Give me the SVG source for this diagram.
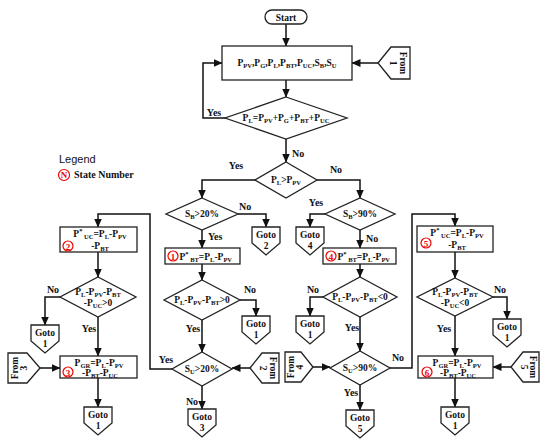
<svg xmlns="http://www.w3.org/2000/svg" width="550" height="444" viewBox="0 0 550 444">
<style>
.t{font-family:"Liberation Serif",serif;font-weight:bold;font-size:9.5px;fill:#111}
.s{font-size:6.5px}
.lb{font-family:"Liberation Serif",serif;font-weight:bold;font-size:10px;fill:#111}
.sh{fill:#fff;stroke:#222;stroke-width:1.3}
.c{fill:none;stroke:#111;stroke-width:1.5}
.st{fill:#fff;stroke:#e00;stroke-width:1.2}
.sn{font-family:"Liberation Serif",serif;font-weight:bold;font-size:9px;fill:#e00}
</style>
<defs>
<marker id="a" markerUnits="userSpaceOnUse" markerWidth="9" markerHeight="8" refX="8.5" refY="4" orient="auto">
<path d="M0,0 L9,4 L0,8 z" fill="#111"/>
</marker>
</defs>
<rect width="550" height="444" fill="#fff"/>

<g id="connectors" class="c" marker-end="url(#a)">
<path d="M286,24 V46"/>
<path d="M378,63 H352"/>
<path d="M286,80 V97"/>
<path d="M225,118 H203 V63 H222"/>
<path d="M286,139 V162"/>
<path d="M255,180 H202 V198"/>
<path d="M317,180 H360 V198"/>
<path d="M238,214 H266 V227"/>
<path d="M202,230 V248"/>
<path d="M325,214 H310 V227"/>
<path d="M360,230 V248"/>
<path d="M202,264 V280"/>
<path d="M240,300 H256 V316"/>
<path d="M202,320 V352"/>
<path d="M172,369 H150 V214 H98 V227"/>
<path d="M250,368 H232"/>
<path d="M202,386 V409"/>
<path d="M98,252 V277"/>
<path d="M60,297 H45 V325"/>
<path d="M98,317 V356"/>
<path d="M40,368 H60"/>
<path d="M98,378 V407"/>
<path d="M360,264 V277"/>
<path d="M323,297 H310 V316"/>
<path d="M360,317 V351"/>
<path d="M313,367 H330"/>
<path d="M360,385 V410"/>
<path d="M390,368 H412 V214 H455 V226"/>
<path d="M455,252 V278"/>
<path d="M493,297 H507 V319"/>
<path d="M455,316 V356"/>
<path d="M511,367 H493"/>
<path d="M455,378 V407"/>
</g>

<g id="edge-labels" class="lb">
<text x="214" y="116" text-anchor="middle">Yes</text>
<text x="292" y="157">No</text>
<text x="236" y="169" text-anchor="middle">Yes</text>
<text x="336" y="173" text-anchor="middle">No</text>
<text x="239" y="210">No</text>
<text x="208" y="240">Yes</text>
<text x="316" y="206" text-anchor="middle">Yes</text>
<text x="366" y="242">No</text>
<text x="250" y="293" text-anchor="middle">No</text>
<text x="193" y="332" text-anchor="middle">Yes</text>
<text x="166" y="363" text-anchor="middle">Yes</text>
<text x="192" y="405" text-anchor="middle">No</text>
<text x="53" y="293" text-anchor="middle">No</text>
<text x="89" y="332" text-anchor="middle">Yes</text>
<text x="313" y="293" text-anchor="middle">No</text>
<text x="352" y="331" text-anchor="middle">Yes</text>
<text x="351" y="396" text-anchor="middle">Yes</text>
<text x="398" y="361" text-anchor="middle">No</text>
<text x="500" y="293" text-anchor="middle">No</text>
<text x="444" y="332" text-anchor="middle">Yes</text>
</g>

<g id="legend">
<text x="59" y="163" style="font-family:'Liberation Sans',sans-serif;font-size:11px;fill:#111">Legend</text>
<circle class="st" cx="64" cy="175" r="5.5"/>
<text class="sn" x="64" y="178" text-anchor="middle">N</text>
<text class="lb" x="74" y="178">State Number</text>
</g>

<g id="start">
<rect class="sh" x="265" y="10" width="42" height="14" rx="7"/>
<text class="t" x="286" y="20.5" text-anchor="middle">Start</text>
</g>

<g id="input">
<rect class="sh" x="222" y="46" width="130" height="34"/>
<text class="t" x="287" y="66" text-anchor="middle">P<tspan class="s" dy="2">PV</tspan><tspan dy="-2">,P</tspan><tspan class="s" dy="2">G</tspan><tspan dy="-2">,P</tspan><tspan class="s" dy="2">L</tspan><tspan dy="-2">,P</tspan><tspan class="s" dy="2">BT</tspan><tspan dy="-2">,P</tspan><tspan class="s" dy="2">UC</tspan><tspan dy="-2">,S</tspan><tspan class="s" dy="2">B</tspan><tspan dy="-2">,S</tspan><tspan class="s" dy="2">U</tspan></text>
</g>

<g id="from1">
<polygon class="sh" points="378,63 391,47 410,47 410,79 391,79"/>
<text class="t" transform="translate(400,63) rotate(90)" text-anchor="middle">From</text>
<text class="t" transform="translate(390,63) rotate(90)" text-anchor="middle">1</text>
</g>

<g id="balance">
<polygon class="sh" points="286,97 347,118 286,139 225,118"/>
<text class="t" x="286" y="121" text-anchor="middle">P<tspan class="s" dy="2">L</tspan><tspan dy="-2">=P</tspan><tspan class="s" dy="2">PV</tspan><tspan dy="-2">+P</tspan><tspan class="s" dy="2">G</tspan><tspan dy="-2">+P</tspan><tspan class="s" dy="2">BT</tspan><tspan dy="-2">+P</tspan><tspan class="s" dy="2">UC</tspan></text>
</g>

<g id="plppv">
<polygon class="sh" points="286,162 317,180 286,198 255,180"/>
<text class="t" x="286" y="183" text-anchor="middle">P<tspan class="s" dy="2">L</tspan><tspan dy="-2">&gt;P</tspan><tspan class="s" dy="2">PV</tspan></text>
</g>

<g id="sb20">
<polygon class="sh" points="202,198 238,214 202,230 166,214"/>
<text class="t" x="202" y="217" text-anchor="middle">S<tspan class="s" dy="2">B</tspan><tspan dy="-2">&gt;20%</tspan></text>
</g>

<g id="sb90">
<polygon class="sh" points="360,198 395,214 360,230 325,214"/>
<text class="t" x="360" y="217" text-anchor="middle">S<tspan class="s" dy="2">B</tspan><tspan dy="-2">&gt;90%</tspan></text>
</g>

<g id="goto2">
<polygon class="sh" points="252,227 280,227 280,243 266,255 252,243"/>
<text class="t" x="266" y="238" text-anchor="middle">Goto</text>
<text class="t" x="266" y="249" text-anchor="middle">2</text>
</g>

<g id="goto4">
<polygon class="sh" points="296,227 324,227 324,243 310,255 296,243"/>
<text class="t" x="310" y="238" text-anchor="middle">Goto</text>
<text class="t" x="310" y="249" text-anchor="middle">4</text>
</g>

<g id="state1">
<rect class="sh" x="165" y="248" width="75" height="16"/>
<circle class="st" cx="173" cy="256" r="5"/>
<text class="sn" x="173" y="259.5" text-anchor="middle">1</text>
<text class="t" x="179.5" y="259.5">P<tspan class="s" dy="-4">*</tspan><tspan class="s" dy="6"> BT</tspan><tspan dy="-2">=P</tspan><tspan class="s" dy="2">L</tspan><tspan dy="-2">-P</tspan><tspan class="s" dy="2">PV</tspan></text>
</g>

<g id="state4">
<rect class="sh" x="323" y="248" width="73" height="16"/>
<circle class="st" cx="331" cy="256" r="5"/>
<text class="sn" x="331" y="259.5" text-anchor="middle">4</text>
<text class="t" x="337.5" y="259.5">P<tspan class="s" dy="-4">*</tspan><tspan class="s" dy="6"> BT</tspan><tspan dy="-2">=P</tspan><tspan class="s" dy="2">L</tspan><tspan dy="-2">-P</tspan><tspan class="s" dy="2">PV</tspan></text>
</g>

<g id="check-a">
<polygon class="sh" points="202,280 240,300 202,320 164,300"/>
<text class="t" x="202" y="303" text-anchor="middle">P<tspan class="s" dy="2">L</tspan><tspan dy="-2">-P</tspan><tspan class="s" dy="2">PV</tspan><tspan dy="-2">-P</tspan><tspan class="s" dy="2">BT</tspan><tspan dy="-2">&gt;0</tspan></text>
</g>

<g id="check-c">
<polygon class="sh" points="360,277 397,297 360,317 323,297"/>
<text class="t" x="360" y="300" text-anchor="middle">P<tspan class="s" dy="2">L</tspan><tspan dy="-2">-P</tspan><tspan class="s" dy="2">PV</tspan><tspan dy="-2">-P</tspan><tspan class="s" dy="2">BT</tspan><tspan dy="-2">&lt;0</tspan></text>
</g>

<g id="goto1-a">
<polygon class="sh" points="242,316 270,316 270,332 256,344 242,332"/>
<text class="t" x="256" y="327" text-anchor="middle">Goto</text>
<text class="t" x="256" y="338" text-anchor="middle">1</text>
</g>

<g id="goto1-c">
<polygon class="sh" points="296,316 324,316 324,332 310,344 296,332"/>
<text class="t" x="310" y="327" text-anchor="middle">Goto</text>
<text class="t" x="310" y="338" text-anchor="middle">1</text>
</g>

<g id="su20">
<polygon class="sh" points="202,352 232,369 202,386 172,369"/>
<text class="t" x="202" y="372" text-anchor="middle">S<tspan class="s" dy="2">U</tspan><tspan dy="-2">&gt;20%</tspan></text>
</g>

<g id="su90">
<polygon class="sh" points="360,351 390,368 360,385 330,368"/>
<text class="t" x="360" y="371" text-anchor="middle">S<tspan class="s" dy="2">U</tspan><tspan dy="-2">&gt;90%</tspan></text>
</g>

<g id="from2">
<polygon class="sh" points="250,368 262,353 279,353 279,383 262,383"/>
<text class="t" transform="translate(270,368) rotate(90)" text-anchor="middle">From</text>
<text class="t" transform="translate(260,368) rotate(90)" text-anchor="middle">2</text>
</g>

<g id="from4">
<polygon class="sh" points="313,367 301,382 285,382 285,352 301,352"/>
<text class="t" transform="translate(293.5,367) rotate(-90)" text-anchor="middle">From</text>
<text class="t" transform="translate(303,367) rotate(-90)" text-anchor="middle">4</text>
</g>

<g id="goto3">
<polygon class="sh" points="188,409 216,409 216,425 202,437 188,425"/>
<text class="t" x="202" y="420" text-anchor="middle">Goto</text>
<text class="t" x="202" y="431" text-anchor="middle">3</text>
</g>

<g id="goto5">
<polygon class="sh" points="346,410 374,410 374,426 360,438 346,426"/>
<text class="t" x="360" y="421" text-anchor="middle">Goto</text>
<text class="t" x="360" y="432" text-anchor="middle">5</text>
</g>

<g id="state2">
<rect class="sh" x="60" y="227" width="77" height="25"/>
<circle class="st" cx="68" cy="246" r="5"/>
<text class="sn" x="68" y="249.5" text-anchor="middle">2</text>
<text class="t" x="100" y="237" text-anchor="middle">P<tspan class="s" dy="-4">*</tspan><tspan class="s" dy="6"> UC</tspan><tspan dy="-2">=P</tspan><tspan class="s" dy="2">L</tspan><tspan dy="-2">-P</tspan><tspan class="s" dy="2">PV</tspan></text>
<text class="t" x="100" y="249" text-anchor="middle">-P<tspan class="s" dy="2">BT</tspan></text>
</g>

<g id="check-b">
<polygon class="sh" points="98,277 136,297 98,317 60,297"/>
<text class="t" x="98" y="295" text-anchor="middle">P<tspan class="s" dy="2">L</tspan><tspan dy="-2">-P</tspan><tspan class="s" dy="2">PV</tspan><tspan dy="-2">-P</tspan><tspan class="s" dy="2">BT</tspan></text>
<text class="t" x="98" y="306" text-anchor="middle">-P<tspan class="s" dy="2">UC</tspan><tspan dy="-2">&gt;0</tspan></text>
</g>

<g id="goto1-b">
<polygon class="sh" points="31,325 59,325 59,341 45,353 31,341"/>
<text class="t" x="45" y="336" text-anchor="middle">Goto</text>
<text class="t" x="45" y="347" text-anchor="middle">1</text>
</g>

<g id="from3">
<polygon class="sh" points="40,368 27,383 8,383 8,353 27,353"/>
<text class="t" transform="translate(17.5,368) rotate(-90)" text-anchor="middle">From</text>
<text class="t" transform="translate(27,368) rotate(-90)" text-anchor="middle">3</text>
</g>

<g id="state3">
<rect class="sh" x="60" y="356" width="77" height="22"/>
<circle class="st" cx="68" cy="372" r="5"/>
<text class="sn" x="68" y="375.5" text-anchor="middle">3</text>
<text class="t" x="99" y="366" text-anchor="middle">P<tspan class="s" dy="2">GR</tspan><tspan dy="-2">=P</tspan><tspan class="s" dy="2">L</tspan><tspan dy="-2">-P</tspan><tspan class="s" dy="2">PV</tspan></text>
<text class="t" x="100" y="376" text-anchor="middle">-P<tspan class="s" dy="2">BT</tspan><tspan dy="-2">-P</tspan><tspan class="s" dy="2">UC</tspan></text>
</g>

<g id="goto1-d">
<polygon class="sh" points="84,407 112,407 112,423 98,435 84,423"/>
<text class="t" x="98" y="418" text-anchor="middle">Goto</text>
<text class="t" x="98" y="429" text-anchor="middle">1</text>
</g>

<g id="state5">
<rect class="sh" x="417" y="226" width="76" height="26"/>
<circle class="st" cx="426" cy="243" r="5"/>
<text class="sn" x="426" y="246.5" text-anchor="middle">5</text>
<text class="t" x="457" y="236" text-anchor="middle">P<tspan class="s" dy="-4">*</tspan><tspan class="s" dy="6"> UC</tspan><tspan dy="-2">=P</tspan><tspan class="s" dy="2">L</tspan><tspan dy="-2">-P</tspan><tspan class="s" dy="2">PV</tspan></text>
<text class="t" x="457" y="248" text-anchor="middle">-P<tspan class="s" dy="2">BT</tspan></text>
</g>

<g id="check-d">
<polygon class="sh" points="455,278 493,297 455,316 417,297"/>
<text class="t" x="455" y="295" text-anchor="middle">P<tspan class="s" dy="2">L</tspan><tspan dy="-2">-P</tspan><tspan class="s" dy="2">PV</tspan><tspan dy="-2">-P</tspan><tspan class="s" dy="2">BT</tspan></text>
<text class="t" x="455" y="306" text-anchor="middle">-P<tspan class="s" dy="2">UC</tspan><tspan dy="-2">&lt;0</tspan></text>
</g>

<g id="goto1-e">
<polygon class="sh" points="493,319 521,319 521,335 507,347 493,335"/>
<text class="t" x="507" y="330" text-anchor="middle">Goto</text>
<text class="t" x="507" y="341" text-anchor="middle">1</text>
</g>

<g id="from5">
<polygon class="sh" points="511,367 523,352 539,352 539,382 523,382"/>
<text class="t" transform="translate(530,367) rotate(90)" text-anchor="middle">From</text>
<text class="t" transform="translate(521,367) rotate(90)" text-anchor="middle">5</text>
</g>

<g id="state6">
<rect class="sh" x="418" y="356" width="75" height="22"/>
<circle class="st" cx="427" cy="372" r="5"/>
<text class="sn" x="427" y="375.5" text-anchor="middle">6</text>
<text class="t" x="457" y="366" text-anchor="middle">P<tspan class="s" dy="2">GR</tspan><tspan dy="-2">=P</tspan><tspan class="s" dy="2">L</tspan><tspan dy="-2">-P</tspan><tspan class="s" dy="2">PV</tspan></text>
<text class="t" x="458" y="376" text-anchor="middle">-P<tspan class="s" dy="2">BT</tspan><tspan dy="-2">-P</tspan><tspan class="s" dy="2">UC</tspan></text>
</g>

<g id="goto1-f">
<polygon class="sh" points="441,407 469,407 469,423 455,435 441,423"/>
<text class="t" x="455" y="418" text-anchor="middle">Goto</text>
<text class="t" x="455" y="429" text-anchor="middle">1</text>
</g>
</svg>
